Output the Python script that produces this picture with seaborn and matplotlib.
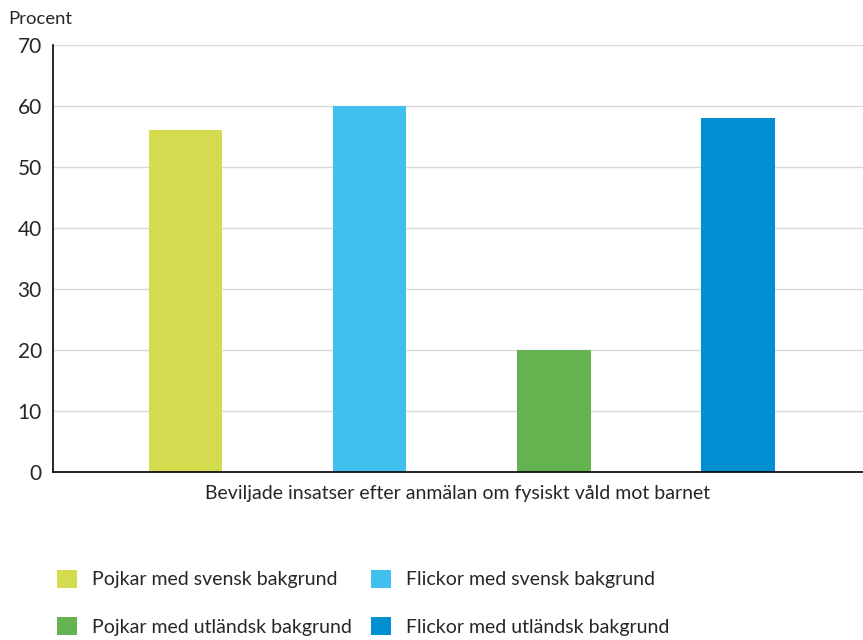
import pandas as pd
import seaborn as sns
import matplotlib.pyplot as plt
from matplotlib.patches import Patch

groups = ['Pojkar med svensk bakgrund', 'Flickor med svensk bakgrund',
          'Pojkar med utländsk bakgrund', 'Flickor med utländsk bakgrund']
values = [56, 60, 20, 58]
colors = ['#D4DB4E', '#41BFEF', '#65B350', '#008FD0']
yticks = [0, 10, 20, 30, 40, 50, 60, 70]

sns.set_style('white')
plt.rcParams['font.family'] = ['Lato', 'DejaVu Sans']

df = pd.DataFrame({'grupp': groups, 'procent': values})

fig = plt.figure(figsize=(8.63, 6.4), dpi=100)
ax = fig.add_axes([53 / 863, 1 - 472 / 640, 810 / 863, 427 / 640])
sns.barplot(data=df, x='grupp', y='procent', hue='grupp', palette=colors,
            width=0.4, legend=False, ax=ax, saturation=1, linewidth=0)

ax.set_ylim(0, 70)
ax.set_xlim(-0.72, 3.68)
ax.set_yticks(yticks)
ax.yaxis.grid(True, color='#d9d9d9', linewidth=1)
ax.set_axisbelow(True)
ax.tick_params(axis='y', length=0, labelsize=15, pad=8)
ax.tick_params(axis='x', length=0, labelbottom=False)
ax.set_ylabel('')
ax.set_xlabel('Beviljade insatser efter anmälan om fysiskt våld mot barnet',
              fontsize=14, labelpad=9)
for s in ['top', 'right']:
    ax.spines[s].set_visible(False)
for s in ['left', 'bottom']:
    ax.spines[s].set_color('black')
    ax.spines[s].set_linewidth(1.2)

fig.text(8 / 863, 1 - 19 / 640, 'Procent', fontsize=13.3, va='center', ha='left')

order = [0, 2, 1, 3]
handles = [Patch(facecolor=colors[i], label=groups[i], linewidth=0) for i in order]
fig.legend(handles=handles, ncol=2, frameon=False, loc='upper left',
           bbox_to_anchor=(39 / 863, 1 - 552 / 640), fontsize=14,
           handlelength=1.05, handleheight=1.05, handletextpad=0.75,
           columnspacing=1.0, labelspacing=1.5)

fig.savefig('out.png', dpi=100)
